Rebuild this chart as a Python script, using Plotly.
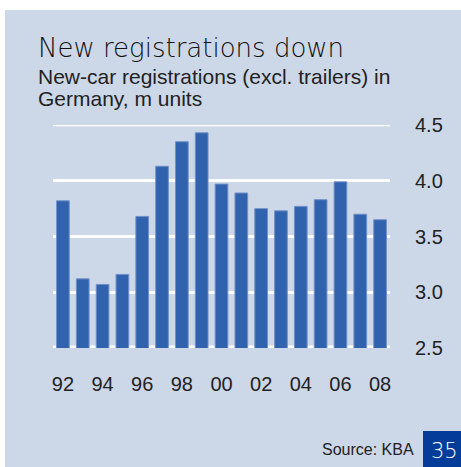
import plotly.graph_objects as go

# New-car registrations in Germany (excl. trailers), millions of units
years = ["92", "93", "94", "95", "96", "97", "98", "99", "00", "01",
         "02", "03", "04", "05", "06", "07", "08"]
registrations = [3.82, 3.12, 3.07, 3.16, 3.68, 4.13, 4.35, 4.43, 3.97, 3.89,
                 3.75, 3.73, 3.77, 3.83, 3.99, 3.70, 3.65]
x_tick_years = ["92", "94", "96", "98", "00", "02", "04", "06", "08"]
y_ticks = [2.5, 3.0, 3.5, 4.0, 4.5]

title = "New registrations down"
subtitle_lines = ["New-car registrations (excl. trailers) in", "Germany, m units"]
source = "Source: KBA"
page_no = "35"

W, H = 461, 467
L, R, T, B = 53, 390, 125, 348  # plot area in pixels

PANEL = "#ccd7e8"
BAR = "#3162ad"
TEXT = "#222222"


def px_x(x):
    return (x - L) / (R - L)


def px_y(y):
    return (B - y) / (B - T)


fig = go.Figure(
    go.Bar(
        x=years,
        y=registrations,
        marker=dict(color=BAR, line=dict(color="#6f90c8", width=1)),
        width=0.64,
        hoverinfo="x+y",
    )
)

shapes = [
    # light blue panel behind everything
    dict(type="rect", xref="paper", yref="paper", layer="below",
         x0=px_x(5), x1=px_x(461), y0=px_y(467), y1=px_y(10),
         fillcolor=PANEL, line=dict(width=0)),
    # top grid line sits on the plot edge, so draw it explicitly
    dict(type="line", xref="paper", yref="y", layer="below",
         x0=0, x1=1, y0=y_ticks[-1], y1=y_ticks[-1],
         line=dict(color="white", width=2.5)),
    # heavy base line at 2.5
    dict(type="line", xref="paper", yref="y", layer="below",
         x0=0, x1=1, y0=y_ticks[0], y1=y_ticks[0],
         line=dict(color="white", width=5)),
    # page number box
    dict(type="rect", xref="paper", yref="paper",
         x0=px_x(423), x1=px_x(462), y0=px_y(468), y1=px_y(431),
         fillcolor="#033d99", line=dict(width=0)),
]

annotations = [
    dict(text=title, xref="paper", yref="paper", x=px_x(36), y=px_y(48),
         xanchor="left", yanchor="middle", showarrow=False,
         font=dict(family="DejaVu Sans", size=26, weight=300, color="#111111")),
    dict(text=subtitle_lines[0], xref="paper", yref="paper", x=px_x(36), y=px_y(76),
         xanchor="left", yanchor="middle", showarrow=False,
         font=dict(family="Liberation Sans, Arial", size=21, color=TEXT)),
    dict(text=subtitle_lines[1], xref="paper", yref="paper", x=px_x(36), y=px_y(98),
         xanchor="left", yanchor="middle", showarrow=False,
         font=dict(family="Liberation Sans, Arial", size=21, color=TEXT)),
    dict(text=source, xref="paper", yref="paper", x=px_x(416), y=px_y(449),
         xanchor="right", yanchor="middle", showarrow=False,
         font=dict(family="Liberation Sans, Arial", size=16, color=TEXT)),
    dict(text=page_no, xref="paper", yref="paper", x=px_x(444), y=px_y(451),
         xanchor="center", yanchor="middle", showarrow=False,
         font=dict(family="DejaVu Sans", size=21, weight=300, color="white")),
]

fig.update_layout(
    width=W, height=H,
    margin=dict(l=L, r=W - R, t=T, b=H - B, pad=0),
    paper_bgcolor="white",
    plot_bgcolor="rgba(0,0,0,0)",
    showlegend=False,
    bargap=0.36,
    shapes=shapes,
    annotations=annotations,
    font=dict(family="Liberation Sans, Arial", color=TEXT),
    xaxis=dict(
        type="category", categoryorder="array", categoryarray=years,
        tickmode="array", tickvals=x_tick_years, ticktext=x_tick_years,
        range=[-0.5, len(years) - 0.5],
        showgrid=False, zeroline=False, showline=False,
        ticks="outside", ticklen=18, tickcolor="rgba(0,0,0,0)",
        tickfont=dict(size=20, color=TEXT),
    ),
    yaxis=dict(
        side="right", range=[2.5, 4.5],
        tickmode="array", tickvals=y_ticks,
        ticktext=[f"{v:.1f}" for v in y_ticks],
        showgrid=True, gridcolor="white", gridwidth=2.5,
        zeroline=False, showline=False,
        ticks="outside", ticklen=20, tickcolor="rgba(0,0,0,0)",
        tickfont=dict(size=20, color=TEXT),
    ),
)

fig.write_html("out.html")
